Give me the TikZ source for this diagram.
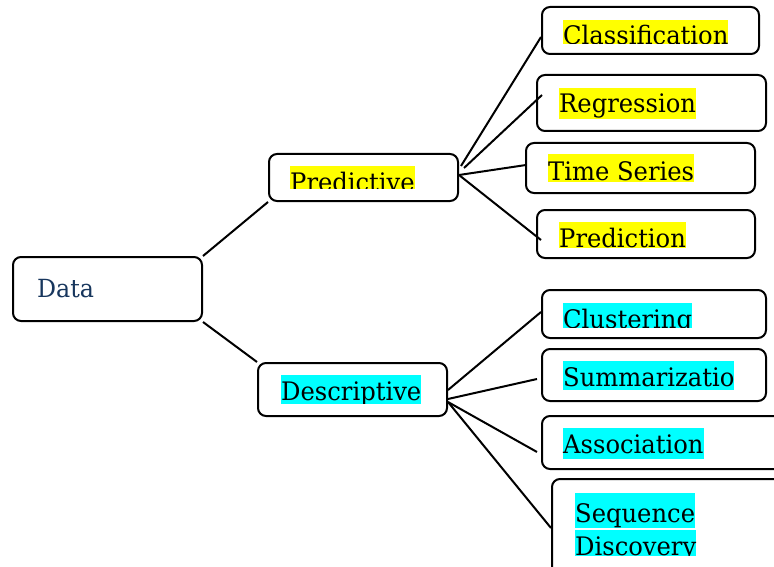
\documentclass[tikz,border=0pt]{standalone}
\usepackage{fontspec}
\setmainfont{DejaVu Serif}[FakeStretch=0.95]
\usetikzlibrary{calc}
\definecolor{navy}{HTML}{17365D}
\definecolor{hlyellow}{HTML}{FFFF00}
\definecolor{hlcyan}{HTML}{00FFFF}
\tikzset{
  box/.style={draw, line width=2pt, rounded corners=8pt, inner sep=0pt},
  wire/.style={line width=2pt},
  lbl/.style={anchor=base west, inner sep=0pt, text depth=8pt,
              font=\fontsize{25.5}{30}\selectfont},
  hly/.style={lbl, fill=hlyellow},
  hlc/.style={lbl, fill=hlcyan}
}
\begin{document}
\begin{tikzpicture}[x=1pt, y=-1pt]
\clip (0,0) rectangle (774,567);
\fill[white] (0,0) rectangle (774,567);

% boxes
\node[box, minimum width=189pt, minimum height=64pt] (data)  at (107.5,289)   {};
\node[box, minimum width=189pt, minimum height=47pt] (pred)  at (363.5,177.5) {};
\node[box, minimum width=189pt, minimum height=53pt] (desc)  at (352.5,389.5) {};
\node[box, minimum width=217pt, minimum height=47pt] (class) at (650.5,30.5)  {};
\node[box, minimum width=229pt, minimum height=56pt] (regr)  at (651.5,103)   {};
\node[box, minimum width=229pt, minimum height=50pt] (times) at (640.5,168)   {};
\node[box, minimum width=218pt, minimum height=48pt] (predn) at (646,234)     {};
\node[box, minimum width=224pt, minimum height=48pt] (clus)  at (654,314)     {};
\node[box, minimum width=224pt, minimum height=52pt] (summ)  at (654,375)     {};
\node[box, minimum width=258pt, minimum height=53pt] (assoc) at (671,442.5)   {};
\node[box, minimum width=248pt, minimum height=121pt] (seq)  at (676,539.5)   {};

% root label
\node[lbl, text height=20pt, text=navy, font=\fontsize{25}{30}\selectfont] (tdata) at (37,297) {Data};

% highlighted labels, cut off at the bottom of each text frame
\begin{scope}\clip (280,160) rectangle (450,188);
  \node[hly, text height=25pt] (tpred) at (290,191) {Predictive};\end{scope}
\begin{scope}\clip (275,370) rectangle (445,403);
  \node[hlc, text height=25pt] (tdesc) at (281,400) {Descriptive};\end{scope}
\begin{scope}\clip (555,15) rectangle (755,44);
  \node[hly, text height=25pt] (tclass) at (563,45) {Classification};\end{scope}
\begin{scope}\clip (550,80) rectangle (764,119);
  \node[hly, text height=25pt] (tregr) at (559,113) {Regression};\end{scope}
\begin{scope}\clip (540,150) rectangle (753,182);
  \node[hly, text height=26pt] (ttime) at (548,180) {Time Series};\end{scope}
\begin{scope}\clip (550,215) rectangle (753,247);
  \node[hly, text height=25pt] (tpredn) at (559,247) {Prediction};\end{scope}
\begin{scope}\clip (555,295) rectangle (764,327);
  \node[hlc, text height=25pt] (tclus) at (563,328) {Clustering};\end{scope}
\begin{scope}\clip (555,355) rectangle (745,389);
  \node[hlc, text height=25pt] (tsumm) at (563,386) {Summarizatio};\end{scope}
\begin{scope}\clip (555,420) rectangle (774,458);
  \node[hlc, text height=25pt] (tassoc) at (563,453) {Association};\end{scope}
\begin{scope}\clip (565,485) rectangle (774,555);
  \node[hlc, text height=29pt, text depth=6pt] (tseqa) at (575,522) {Sequence};
  \node[hlc, text height=25pt] (tseqb) at (575,555) {Discovery};\end{scope}

% connectors from the root
\draw[wire] (data.north east) -- (pred.south west);
\draw[wire] (data.south east) -- (desc.north west);

% predictive fan
\draw[wire] ($(pred.east)+(2,-11.5)$) -- ($(class.west)+(0,6.5)$);
\draw[wire] ($(pred.east)+(5,-9.5)$)  -- ($(regr.west)+(6,-8)$);
\draw[wire] ($(pred.east)+(0,-2.5)$)  -- ($(times.west)+(1,-3)$);
\draw[wire] ($(pred.east)+(0,-2.5)$)  -- ($(predn.west)+(5,6)$);

% descriptive fan
\draw[wire] ($(desc.east)+(0,0.5)$)  -- ($(clus.west)+(0,-2)$);
\draw[wire] ($(desc.east)+(0,9.5)$)  -- ($(summ.west)+(-4,4)$);
\draw[wire] ($(desc.east)+(0,12.5)$) -- ($(assoc.west)+(-4,9.5)$);
\draw[wire] ($(desc.east)+(0,12.5)$) -- ($(seq.west)+(0,-11.5)$);
\end{tikzpicture}
\end{document}
